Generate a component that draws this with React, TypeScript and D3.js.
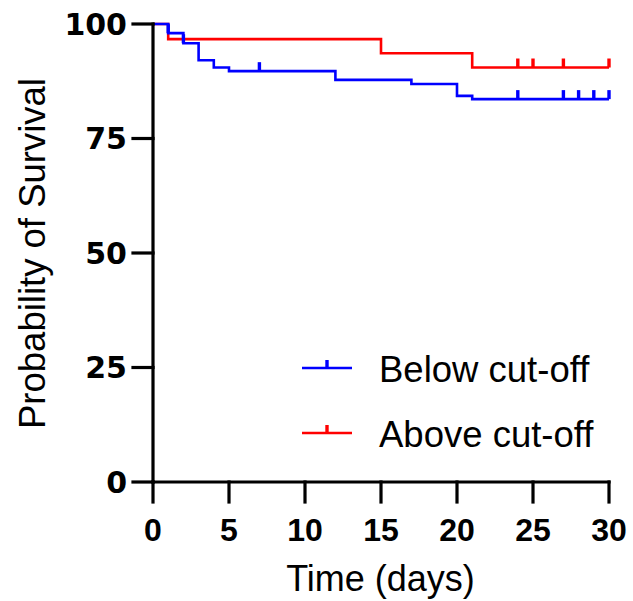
import React from "react";
import * as d3 from "d3";

// Kaplan-Meier steps
const blueTimes = [0, 1, 2, 3, 4, 5, 12, 17, 20, 21, 30];
const blueSurv = [100, 98.0, 95.8, 92.1, 90.5, 89.7, 87.8, 86.9, 84.3, 83.6, 83.6];
const blueCensor = [1, 2, 7, 24, 27, 28, 29, 30];

const redTimes = [0, 1, 15, 21, 30];
const redSurv = [100, 96.7, 93.6, 90.5, 90.5];
const redCensor = [24, 25, 27, 30];

const xTicks = [0, 5, 10, 15, 20, 25, 30];
const yTicks = [0, 25, 50, 75, 100];

const seriesNames = ["Below cut-off", "Above cut-off"];
const BLUE = "#0000ff";
const RED = "#ff0000";

const width = 633;
const height = 601;

const x = d3.scaleLinear().domain([0, 30]).range([153, 609]);
const y = d3.scaleLinear().domain([0, 100]).range([482, 24]);

const stepLine = d3
  .line<[number, number]>()
  .x((d) => x(d[0]))
  .y((d) => y(d[1]))
  .curve(d3.curveStepAfter);

function survAt(times: number[], surv: number[], t: number) {
  let v = surv[0];
  for (let i = 0; i < times.length; i++) if (times[i] <= t) v = surv[i];
  return v;
}

function Curve({ times, surv, censor, color }: { times: number[]; surv: number[]; censor: number[]; color: string }) {
  const pts = times.map((t, i) => [t, surv[i]] as [number, number]);
  return (
    <g>
      <path d={stepLine(pts) || ""} fill="none" stroke={color} strokeWidth={2.6} />
      {censor.map((t) => {
        const cy = y(survAt(times, surv, t));
        return <rect key={t} x={x(t) - 1.7} y={cy - 9} width={3.4} height={9} fill={color} />;
      })}
    </g>
  );
}

export default function App() {
  const tickFont = "'DejaVu Sans', sans-serif";
  const labelFont = "'Liberation Sans', Arial, sans-serif";
  return (
    <svg
      width={width}
      height={height}
      style={{ position: "absolute", left: 0, top: 0, background: "#fff" }}
    >
      <rect width={width} height={height} fill="#fff" />

      <Curve times={redTimes} surv={redSurv} censor={redCensor} color={RED} />
      <Curve times={blueTimes} surv={blueSurv} censor={blueCensor} color={BLUE} />

      {/* axes */}
      <g stroke="#000" strokeWidth={3.2} strokeLinecap="square">
        <line x1={x(0)} x2={x(0)} y1={y(100)} y2={y(0)} />
        {yTicks.map((t) => (
          <line key={t} x1={x(0) - 20} x2={x(0)} y1={y(t)} y2={y(t)} />
        ))}
        <line x1={x(0)} x2={x(30)} y1={y(0)} y2={y(0)} />
        {xTicks.map((t) => (
          <line key={t} x1={x(t)} x2={x(t)} y1={y(0)} y2={y(0) + 20} />
        ))}
      </g>

      {yTicks.map((t) => (
        <text
          key={t}
          x={127}
          y={y(t) + 10.5}
          textAnchor="end"
          fontFamily={tickFont}
          fontWeight="bold"
          fontSize={30}
        >
          {t}
        </text>
      ))}
      {xTicks.map((t) => (
        <text
          key={t}
          x={x(t)}
          y={541}
          textAnchor="middle"
          fontFamily={labelFont}
          fontWeight="bold"
          fontSize={32}
        >
          {t}
        </text>
      ))}

      <text x={380.5} y={591} textAnchor="middle" fontFamily={labelFont} fontSize={36}>
        Time (days)
      </text>
      <text
        transform="translate(45,253.5) rotate(-90)"
        textAnchor="middle"
        fontFamily={labelFont}
        fontSize={36.5}
      >
        Probability of Survival
      </text>

      {/* legend */}
      {[BLUE, RED].map((c, i) => {
        const ly = 368 + i * 65;
        return (
          <g key={c}>
            <line x1={302} x2={352} y1={ly} y2={ly} stroke={c} strokeWidth={2.6} />
            <rect x={325.3} y={ly - 8} width={3.4} height={8} fill={c} />
            <text x={379} y={ly + 14} fontFamily={labelFont} fontSize={36.5}>
              {seriesNames[i]}
            </text>
          </g>
        );
      })}
    </svg>
  );
}
